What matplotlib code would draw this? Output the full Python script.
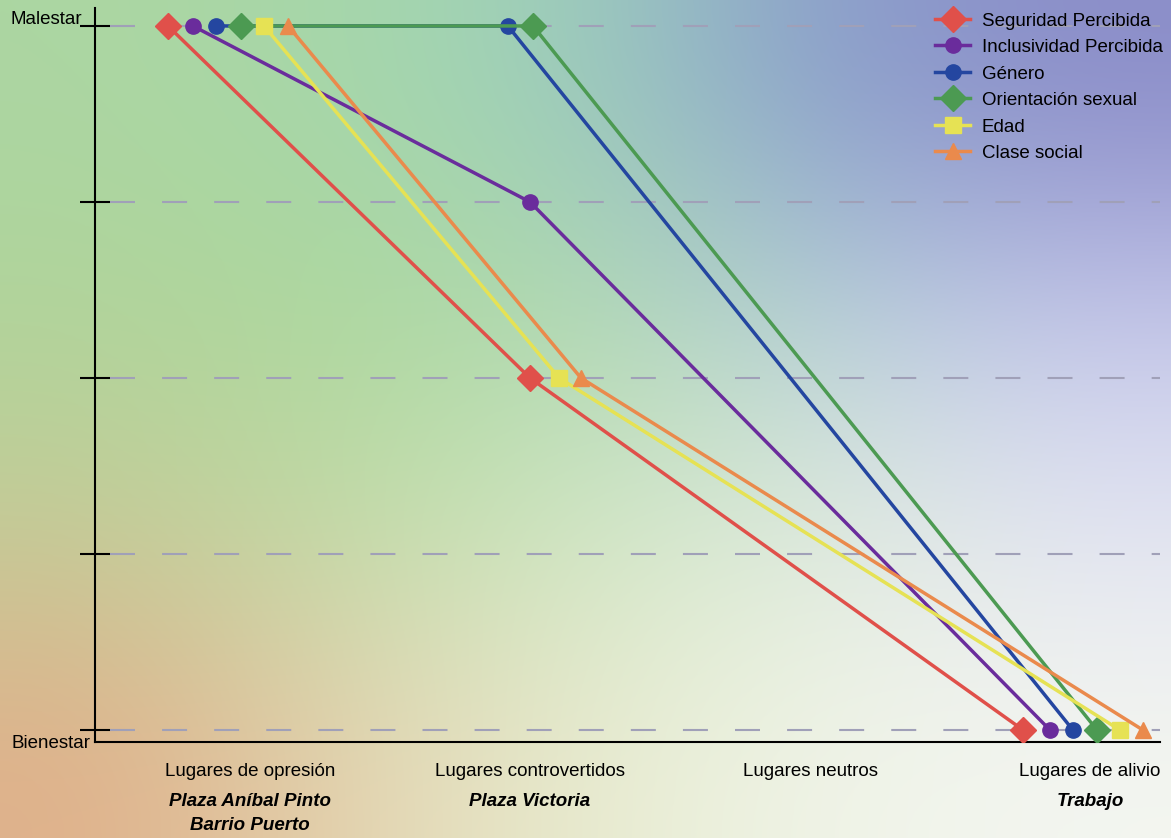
import numpy as np
import matplotlib
matplotlib.use('Agg')
from matplotlib import pyplot as plt
from matplotlib import colors as mcolors
from matplotlib.transforms import blended_transform_factory

plt.rcParams['font.family'] = ['Liberation Sans', 'DejaVu Sans']

categories = ['Lugares de opresión', 'Lugares controvertidos', 'Lugares neutros', 'Lugares de alivio']
places = ['Plaza Aníbal Pinto\nBarrio Puerto', 'Plaza Victoria', '', 'Trabajo']
series = ['Seguridad Percibida', 'Inclusividad Percibida', 'Género',
          'Orientación sexual', 'Edad', 'Clase social']
# nivel: 0 = Bienestar ... 4 = Malestar (nan = sin punto)
seguridad = [4, 2, np.nan, 0]
inclusividad = [4, 3, np.nan, 0]
genero = [4, 4, np.nan, 0]
orientacion = [4, 4, np.nan, 0]
edad = [4, 2, np.nan, 0]
clase = [4, 2, np.nan, 0]
values = [seguridad, inclusividad, genero, orientacion, edad, clase]

colores = ['#e0504a', '#6a2c9c', '#2446a0', '#4c9a52', '#e6e254', '#ea8a4c']
marcadores = ['D', 'o', 'o', 'D', 's', '^']
tam = [13, 11, 11, 13, 11, 12]

# desplazamiento de cada serie dentro de cada categoria
dodge = [[-0.293, 0.0, 0, -0.239],
         [-0.204, 0.0, 0, -0.143],
         [-0.121, -0.079, 0, -0.061],
         [-0.032, 0.011, 0, 0.025],
         [0.050, 0.104, 0, 0.107],
         [0.136, 0.182, 0, 0.189]]

# fondo degradado
fondo = [['#acd6a2', '#a6d8aa', '#9ccdbe', '#8a9ecc', '#8a8cc8'],
         ['#b0d49a', '#acd89c', '#b0dab0', '#b4d0d8', '#c4c6ea'],
         ['#c4cc98', '#c0dca8', '#d0e6c4', '#e0ecdc', '#e2e4f2'],
         ['#e0b08a', '#e4d4b0', '#e8ecd0', '#f0f4e8', '#f4f6f0']]

fig = plt.figure(figsize=(11.71, 8.38), dpi=100)
bg = fig.add_axes([0, 0, 1, 1], zorder=-1)
bg.imshow(np.array([[mcolors.to_rgb(c) for c in fila] for fila in fondo]),
          aspect='auto', interpolation='bicubic', extent=(0, 1, 0, 1))
bg.axis('off')

ax = fig.add_axes([95 / 1171, 96 / 838, 1065 / 1171, 734 / 838])
ax.patch.set_alpha(0)

for lv in range(5):
    ax.axhline(lv, xmin=0.014, xmax=1, color='#a0a0b8', lw=1.5,
               ls=(0, (12, 13)), zorder=1)

for i in range(len(series)):
    xs, ys = [], []
    for j, v in enumerate(values[i]):
        if not np.isnan(v):
            xs.append(j + dodge[i][j])
            ys.append(v)
    ax.plot(xs, ys, color=colores[i], lw=2.5, marker=marcadores[i],
            markersize=tam[i], label=series[i], zorder=3)

ax.set_xlim(-0.5536, 3.25)
ax.set_ylim(-0.068, 4.102)
ax.spines['top'].set_visible(False)
ax.spines['right'].set_visible(False)
ax.spines['left'].set_linewidth(1.5)
ax.spines['bottom'].set_linewidth(1.5)

ax.set_yticks(range(5))
ax.set_yticklabels([])
ax.tick_params(axis='y', direction='inout', length=22, width=1.5)
ax.set_xticks(range(4))
ax.set_xticklabels(categories, fontsize=13.5)
ax.tick_params(axis='x', length=0, pad=15)

trans = blended_transform_factory(ax.transData, ax.transAxes)
for j, p in enumerate(places):
    ax.text(j, -0.069, p, transform=trans, ha='center', va='top',
            fontsize=13.5, fontweight='bold', fontstyle='italic', linespacing=1.6)

ax.text(-0.012, 3.99, 'Malestar', transform=blended_transform_factory(ax.transAxes, ax.transData),
        ha='right', va='bottom', fontsize=13.5)
ax.text(-0.004, -0.002, 'Bienestar', transform=ax.transAxes, ha='right', va='center', fontsize=13.5)

ax.legend(loc='upper right', bbox_to_anchor=(1.0, 1.0 - 4 / 838), bbox_transform=fig.transFigure,
          frameon=False, fontsize=13.5, handlelength=1.9, labelspacing=0.5,
          handletextpad=0.6, borderaxespad=0.15, borderpad=0.3)

fig.savefig('out.png', dpi=100)
